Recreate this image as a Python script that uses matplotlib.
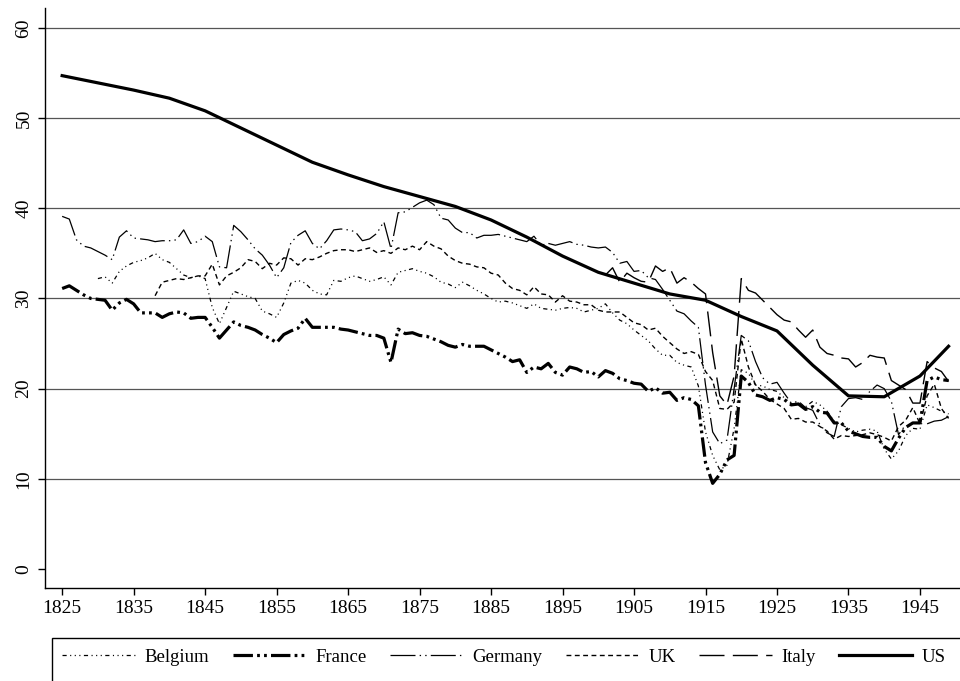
import numpy as np
import matplotlib.pyplot as plt
from matplotlib.patches import Rectangle

nan = float('nan')

# Anos 1825-1949 (séries anuais), EUA em pontos quinquenais
anos = np.arange(1825, 1950)

belgium = [
    nan, nan, nan, nan, nan,
    32.2, 32.4, 31.7, 33.0, 33.6, 34.0, 34.2, 34.5, 35.0, 34.3,
    34.0, 33.3, 32.6, 32.3, 32.5, 32.2, 29.0, 27.2, 29.0, 30.8,
    30.5, 30.2, 30.0, 28.6, 28.3, 27.9, 29.5, 31.7, 32.0, 31.7,
    30.9, 30.5, 30.4, 32.0, 31.9, 32.3, 32.5, 32.2, 31.9, 32.1,
    32.4, 31.5, 32.9, 33.1, 33.3, 33.0, 32.8, 32.4, 31.8, 31.6,
    31.2, 31.8, 31.4, 30.9, 30.5, 30.0, 29.6, 29.7, 29.5, 29.2,
    28.9, 29.4, 28.9, 28.8, 28.7, 28.9, 29.0, 28.9, 28.5, 28.7,
    28.9, 29.4, 28.4, 27.6, 27.2, 26.5, 25.9, 25.3, 24.4, 23.7,
    23.7, 22.9, 22.6, 22.4, 20.3, 15.2, 12.6, 11.0, 11.5, 15.6,
    22.1, 21.7, 20.4, 20.3, 19.9, 19.7, 19.0, 18.3, 18.3, 18.0,
    18.6, 18.2, 17.5, 16.4, 16.0, 15.6, 15.2, 15.4, 15.5, 15.3,
    13.3, 12.2, 13.1, 14.8, 15.6, 15.5, 18.2, 17.9, 17.5, 17.2,
]

france = [
    31.1, 31.4, 30.9, 30.4, 30.0,
    29.9, 29.8, 28.7, 29.5, 29.9, 29.4, 28.4, 28.4, 28.4, 27.9,
    28.3, 28.5, 28.4, 27.8, 27.9, 27.9, 26.8, 25.6, 26.5, 27.4,
    27.0, 26.8, 26.5, 26.0, 25.6, 25.1, 26.0, 26.4, 26.7, 27.8,
    26.8, 26.8, 26.8, 26.8, 26.6, 26.5, 26.3, 26.1, 25.9, 25.9,
    25.6, 22.9, 26.6, 26.1, 26.2, 25.9, 25.8, 25.5, 25.2, 24.8,
    24.6, 24.9, 24.7, 24.7, 24.7, 24.3, 23.9, 23.5, 23.0, 23.2,
    21.8, 22.4, 22.2, 22.8, 21.8, 21.5, 22.4, 22.2, 21.8, 21.9,
    21.3, 22.0, 21.7, 21.1, 20.9, 20.6, 20.5, 19.7, 20.1, 19.5,
    19.6, 18.7, 19.0, 18.8, 18.1, 11.8, 9.5, 10.5, 12.1, 12.6,
    21.4, 20.7, 19.3, 19.1, 18.7, 19.0, 18.8, 18.2, 18.3, 17.7,
    18.0, 17.4, 17.3, 16.2, 16.2, 15.3, 15.0, 14.7, 14.6, 14.6,
    13.6, 13.1, 14.5, 15.7, 16.2, 16.2, 20.9, 21.3, 21.0, 20.9,
]

germany = [
    39.1, 38.8, 36.5, 35.8, 35.6,
    35.2, 34.8, 34.3, 36.8, 37.5, 36.7, 36.6, 36.5, 36.3, 36.4,
    36.4, 36.5, 37.6, 36.1, 36.3, 36.9, 36.3, 33.5, 33.4, 38.1,
    37.4, 36.5, 35.5, 34.8, 33.7, 32.3, 33.4, 36.2, 37.0, 37.5,
    36.1, 35.5, 36.4, 37.6, 37.7, 37.6, 37.4, 36.4, 36.6, 37.2,
    38.5, 35.5, 39.5, 39.6, 40.1, 40.6, 40.9, 40.4, 38.9, 38.7,
    37.8, 37.3, 37.3, 36.7, 37.0, 37.0, 37.1, 36.9, 36.7, 36.5,
    36.3, 36.9, 35.9, 36.1, 35.9, 36.1, 36.3, 36.0, 35.9, 35.7,
    35.6, 35.7, 35.1, 33.9, 34.1, 33.0, 33.1, 32.3, 32.1, 31.0,
    29.8, 28.6, 28.3, 27.5, 26.8, 20.4, 15.2, 13.9, 14.3, 20.0,
    25.9, 25.3, 23.0, 21.2, 20.5, 20.7, 19.5, 18.4, 18.6, 17.9,
    17.6, 16.0, 15.1, 14.7, 18.0, 18.9, 19.0, 18.8, 19.7, 20.4,
    20.0, 18.6, 14.9, 16.0, nan, nan, 16.1, 16.4, 16.5, 16.9,
]

uk = [
    nan, nan, nan, nan, nan,
    nan, nan, nan, nan, nan, nan, nan, nan, 30.3, 31.8,
    32.0, 32.2, 32.1, 32.3, 32.5, 32.5, 33.8, 31.5, 32.5, 32.9,
    33.4, 34.3, 34.1, 33.3, 33.9, 33.7, 34.5, 34.4, 33.7, 34.4,
    34.3, 34.6, 35.0, 35.3, 35.4, 35.4, 35.2, 35.4, 35.6, 35.1,
    35.3, 35.0, 35.6, 35.4, 35.8, 35.4, 36.3, 35.8, 35.5, 34.7,
    34.2, 33.9, 33.8, 33.5, 33.4, 32.8, 32.6, 31.7, 31.1, 30.9,
    30.4, 31.3, 30.5, 30.4, 29.6, 30.3, 29.7, 29.6, 29.3, 29.3,
    28.7, 28.5, 28.5, 28.5, 27.9, 27.3, 27.1, 26.5, 26.7, 25.8,
    25.1, 24.4, 23.9, 24.1, 23.8, 21.9, 20.9, 17.8, 17.7, 18.5,
    25.5, 22.4, 20.4, 19.7, 18.8, 18.3, 17.8, 16.6, 16.7, 16.3,
    16.3, 15.8, 15.3, 14.4, 14.8, 14.7, 14.8, 14.9, 15.1, 14.9,
    14.6, 14.2, 15.8, 16.5, 17.9, 16.1, 19.2, 20.5, 17.8, 16.7,
]

italy = [nan] * 76 + [
    32.6, 33.4, 31.8, 32.8,
    32.3, 31.9, 31.8, 33.6, 33.0, 33.4, 31.7, 32.3, 31.8, 31.1,
    30.5, 24.0, 19.2, 18.2, 21.4, 32.2, 30.9, 30.6, 29.8, 29.0,
    28.2, 27.6, 27.4, 26.5, 25.7, 26.5, 24.6, 23.9, 23.7, 23.4,
    23.3, 22.4, 22.9, 23.7, 23.5, 23.4, 20.9, 20.4, 19.9, 18.4,
    18.4, 23.0, 22.3, 21.9, 20.8,
]

anos_us = [1825, 1830, 1835, 1840, 1845, 1850, 1855, 1860, 1865, 1870, 1875, 1880, 1885,
           1890, 1895, 1900, 1905, 1910, 1915, 1920, 1925, 1930, 1935, 1940, 1945, 1949]
us = [54.7, 53.9, 53.1, 52.2, 50.8, 48.9, 47.0, 45.1, 43.7, 42.4, 41.3, 40.2, 38.7,
      36.8, 34.7, 32.9, 31.7, 30.5, 29.8, 28.0, 26.4, 22.6, 19.2, 19.1, 21.4, 24.7]

plt.rcParams['font.family'] = ['Liberation Serif', 'DejaVu Serif']
plt.rcParams['lines.scale_dashes'] = False

fig = plt.figure(figsize=(9.6, 6.81), dpi=100)
ax = fig.add_axes([45/960, 1 - 588/681, 1 - 45/960, 580/681])

for y in range(10, 61, 10):
    ax.axhline(y, color='#555555', lw=0.9, zorder=0)

estilos = [
    ('Belgium', belgium, 0.9, (0, (3, 2.5, 0.8, 2.5, 0.8, 2.5, 0.8, 2.5))),
    ('France', france, 2.3, (0, (14, 3, 2, 3, 2, 3))),
    ('Germany', germany, 0.9, (0, (18, 3, 1, 3, 1, 3))),
    ('UK', uk, 1.0, (0, (3.5, 2.5))),
    ('Italy', italy, 1.0, (0, (18, 6))),
]
handles = []
for nome, serie, lw, ls in estilos:
    h, = ax.plot(anos, np.array(serie, dtype=float), color='black', lw=lw,
                 linestyle=ls, label=nome)
    handles.append(h)
h, = ax.plot(anos_us, us, color='black', lw=2.3, label='US')
handles.append(h)

ax.set_xlim(1822.6, 1950.6)
ax.set_ylim(-2.1, 62.2)
ax.set_xticks(range(1825, 1946, 10))
ax.set_yticks(range(0, 61, 10))
for s in ['top', 'right']:
    ax.spines[s].set_visible(False)
ax.spines['left'].set_linewidth(1.0)
ax.spines['bottom'].set_linewidth(1.0)
ax.tick_params(axis='both', direction='out', length=5, width=1.0, labelsize=14)
ax.tick_params(axis='y', labelrotation=90, pad=4)
for lbl in ax.get_yticklabels():
    lbl.set_va('center')

# Legenda embaixo, dentro de uma caixa que vai até a borda
fig.add_artist(Rectangle((52/960, -0.05), 1.0, 0.05 + (681 - 638)/681,
                         transform=fig.transFigure, fill=False, ec='black', lw=1.0))
fig.legend(handles=handles, loc='center left', bbox_to_anchor=(62/960, 1 - 657/681),
           ncol=6, frameon=False, fontsize=13.5, handlelength=3.9,
           handletextpad=0.5, columnspacing=1.25, borderaxespad=0, borderpad=0)

fig.savefig('out.png', dpi=100)
